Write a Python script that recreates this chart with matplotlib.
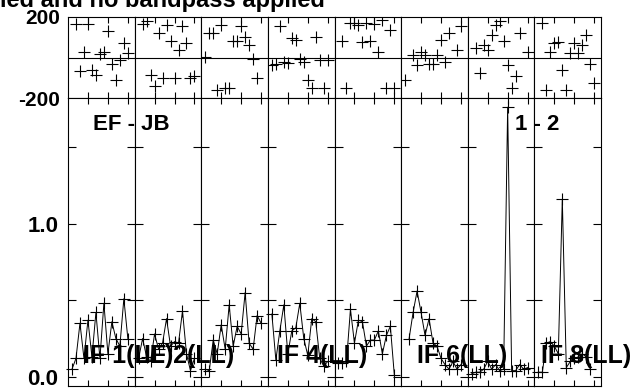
import numpy as np
import matplotlib
matplotlib.use('Agg')
from matplotlib import pyplot as plt

nan = np.nan

# channels 1..16 in each IF
channels = np.arange(1, 17)
if_names = ['IF 1(LL)', 'IF 2(LL)', 'IF 3(LL)', 'IF 4(LL)',
            'IF 5(LL)', 'IF 6(LL)', 'IF 7(LL)', 'IF 8(LL)']

# phase (degrees) per IF
phase_if1 = [nan, 167, -69, 25, 167, -60, -85, 15, 25, 132, -30, -110, -13, 72, 20, nan]
phase_if2 = [nan, 167, 178, -85, -143, 122, -101, 162, 80, -101, 39, 154, 72, -101, -93, nan]
phase_if3 = [3, 121, 121, -159, 162, -150, -150, 80, 80, 154, 100, 63, -5, -101, nan, nan]
phase_if4 = [-38, -30, 154, -22, -25, 96, 85, -5, -22, -110, -152, 101, -13, -152, -13, nan]
phase_if5 = [nan, 80, -151, 170, 170, 160, 75, 170, 80, 165, 28, 187, -151, 137, -151, nan]
phase_if6 = [-110, nan, 11, -36, 28, 11, -30, -30, 11, 88, -22, 121, nan, 39, 154, nan]
phase_if7 = [nan, 47, -79, 63, 39, 113, 162, 178, 80, -38, -151, -93, 121, nan, 28, nan]
phase_if8 = [nan, 170, -159, 28, 72, 75, -60, -159, 20, 72, 20, 60, 113, -30, -126, nan]

# amplitude per IF
amp_if1 = [0.05, 0.12, 0.35, 0.12, 0.37, 0.13, 0.42, 0.12, 0.48, 0.15, 0.36, 0.25, 0.20, 0.51, 0.25, nan]
amp_if2 = [0.12, 0.25, 0.13, 0.10, 0.28, 0.18, 0.22, 0.38, 0.20, 0.23, 0.22, 0.43, 0.15, 0.04, 0.12, nan]
amp_if3 = [0.05, 0.04, 0.24, 0.15, 0.34, 0.18, 0.47, 0.20, 0.33, 0.28, 0.55, 0.22, 0.18, 0.40, 0.35, nan]
amp_if4 = [0.41, 0.11, 0.30, 0.47, 0.15, 0.30, 0.32, 0.48, 0.25, 0.14, 0.38, 0.36, 0.12, 0.07, 0.10, nan]
amp_if5 = [0.09, 0.09, 0.10, 0.44, 0.22, 0.37, 0.36, 0.20, 0.24, 0.24, 0.30, 0.15, 0.27, 0.33, 0.01, nan]
amp_if6 = [nan, 0.25, 0.42, 0.56, 0.42, 0.27, 0.38, 0.22, 0.20, 0.12, 0.08, 0.05, 0.10, 0.05, 0.08, nan]
amp_if7 = [0.02, 0.03, 0.03, 0.05, 0.10, 0.05, 0.08, 0.04, 0.05, 1.76, 0.04, 0.04, 0.08, 0.05, 0.06, nan]
amp_if8 = [0.03, 0.03, 0.22, 0.23, 0.20, 0.15, 1.16, 0.06, 0.10, 0.12, 0.13, 0.15, 0.13, 0.05, nan, nan]

phases = [phase_if1, phase_if2, phase_if3, phase_if4, phase_if5, phase_if6, phase_if7, phase_if8]
amps = [amp_if1, amp_if2, amp_if3, amp_if4, amp_if5, amp_if6, amp_if7, amp_if8]

plt.rcParams['font.family'] = ['Liberation Sans', 'DejaVu Sans']
plt.rcParams['font.weight'] = 'bold'

W, H = 636, 391
fig = plt.figure(figsize=(W / 100, H / 100), dpi=100)


def fx(px):
    return px / W


def fy(py):
    return 1 - py / H


left, right = 68, 601
pw = (right - left) / 8
ph_top, ph_bot = 17, 98
am_top, am_bot = 98, 386

for i in range(8):
    x0 = left + i * pw
    axp = fig.add_axes([fx(x0), fy(ph_bot), pw / W, (ph_bot - ph_top) / H])
    axa = fig.add_axes([fx(x0), fy(am_bot), pw / W, (am_bot - am_top) / H])

    axp.plot(channels, phases[i], '+', color='black', ms=9, mew=0.8)
    axp.axhline(0, color='black', lw=0.8)
    axp.set_ylim(-200, 200)
    axa.plot(channels, amps[i], '-', color='black', lw=0.7,
             marker='+', ms=9, mew=0.8, clip_on=False)
    axa.set_ylim(-0.06, 1.82)

    for ax in (axp, axa):
        ax.set_xlim(0, 16.7)
        ax.set_xticks([5, 10, 15])
        ax.set_xticklabels([])
        for s in ax.spines.values():
            s.set_linewidth(0.8)
        ax.tick_params(axis='x', direction='in', length=4, width=0.8,
                       top=True, bottom=True)
        ax.tick_params(axis='y', direction='in', length=6, width=0.8,
                       left=True, right=True)

    axp.set_yticks([-200, 200])
    axp.tick_params(axis='y', length=0, pad=6, labelsize=15)
    axa.set_yticks([0, 0.5, 1.0, 1.5])
    axa.tick_params(axis='y', pad=7, labelsize=16)
    if i == 0:
        axp.set_yticklabels(['-200', '200'])
        axa.set_yticklabels(['0.0', '', '1.0', ''])
    else:
        axp.set_yticklabels([])
        axa.set_yticklabels([])

# baseline labels
fig.text(fx(93), fy(124), 'EF - JB', fontsize=16, va='center', ha='left')
fig.text(fx(515), fy(124), '1 - 2', fontsize=16, va='center', ha='left')

# IF labels (only the ones visible in the plot)
label_x = {0: 83, 1: 144, 3: 277, 5: 417, 7: 541}
for i, xp in label_x.items():
    fig.text(fx(xp), fy(356), if_names[i], fontsize=18, va='center', ha='left')

# title, mostly cut off at the top
fig.text(fx(0), fy(7.5), 'ied and no bandpass applied', fontsize=17,
         va='baseline', ha='left')

plt.savefig('out.png', dpi=100)
